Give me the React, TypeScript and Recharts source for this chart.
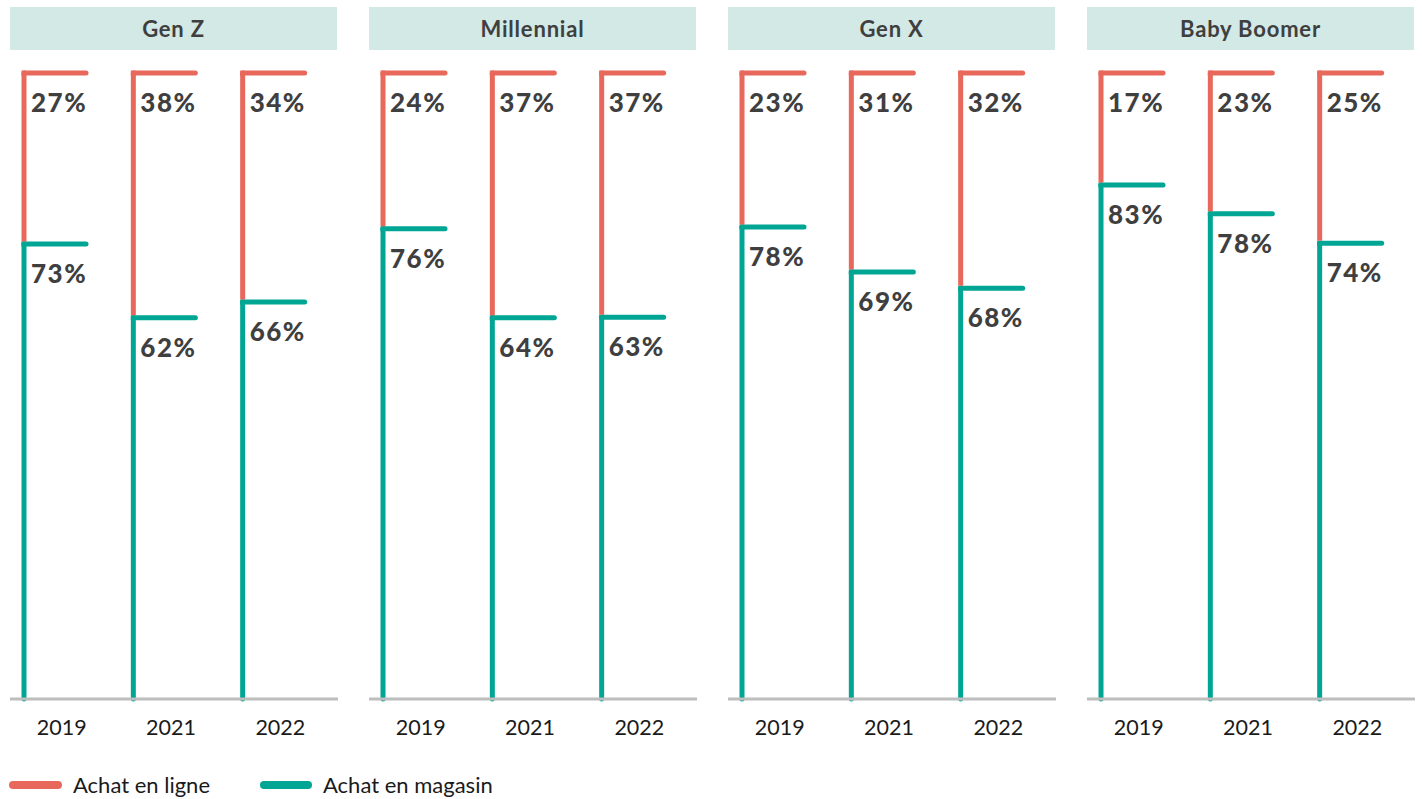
import React from 'react';
import { BarChart, Bar, XAxis, YAxis } from 'recharts';

const categories = ['2019', '2021', '2022'];
const generations = ['Gen Z', 'Millennial', 'Gen X', 'Baby Boomer'];
const seriesNames = ['Achat en ligne', 'Achat en magasin'];

// Displayed label values (%)
const genZEnLigne = [27, 38, 34];
const genZEnMagasin = [73, 62, 66];
const millennialEnLigne = [24, 37, 37];
const millennialEnMagasin = [76, 64, 63];
const genXEnLigne = [23, 31, 32];
const genXEnMagasin = [78, 69, 68];
const boomerEnLigne = [17, 23, 25];
const boomerEnMagasin = [83, 78, 74];

// Heights of the in-store segment as drawn in the picture (% of the column)
const genZHauteur = [72.7, 60.9, 63.4];
const millennialHauteur = [75.1, 60.9, 61.0];
const genXHauteur = [75.4, 68.2, 65.6];
const boomerHauteur = [82.1, 77.5, 72.8];

const RED = '#E8695B';
const GREEN = '#00A693';
const HEADER_BG = '#D2E9E6';
const LABEL = '#3F3F3F';
const FONT = 'Lato, "Noto Sans", sans-serif';

const panelLefts = [10, 369, 728, 1087];

const buildData = (enLigne: number[], enMagasin: number[], hauteur: number[]) =>
  categories.map((annee, i) => ({
    annee,
    enLigne: enLigne[i],
    enMagasin: enMagasin[i],
    hMagasin: hauteur[i],
    hLigne: 100 - hauteur[i],
  }));

const panels = [
  buildData(genZEnLigne, genZEnMagasin, genZHauteur),
  buildData(millennialEnLigne, millennialEnMagasin, millennialHauteur),
  buildData(genXEnLigne, genXEnMagasin, genXHauteur),
  buildData(boomerEnLigne, boomerEnMagasin, boomerHauteur),
];

const TICK_LEN = 62;

const makeShape = (color: string, key: 'enLigne' | 'enMagasin', trimBottom: boolean) => (props: any) => {
  const { x, y, height, payload } = props;
  if (x == null || y == null) return null;
  const x0 = x - 3;
  const bottom = y + height - (trimBottom ? 2.5 : 0);
  return (
    <g>
      <path d={`M ${x0} ${y} L ${x0} ${bottom}`} stroke={color} strokeWidth={5} strokeLinecap={trimBottom ? 'butt' : 'round'} fill="none" />
      <path d={`M ${x0 + TICK_LEN} ${y} L ${x0} ${y}`} stroke={color} strokeWidth={5} strokeLinecap="round" fill="none" />
      <path d={`M ${x0 - 2.5} ${y} L ${x0 + 2} ${y}`} stroke={color} strokeWidth={5} strokeLinecap="butt" fill="none" />
      <text x={x0 + 7} y={y + 39} fill={LABEL} fontFamily={FONT} fontWeight={900} fontSize={26} letterSpacing={1.5}>
        {`${payload[key]}%`}
      </text>
    </g>
  );
};

const greenShape = makeShape(GREEN, 'enMagasin', false);
const redShape = makeShape(RED, 'enLigne', true);

const YearTick = (props: any) => {
  const { x, y, payload } = props;
  return (
    <text x={x - 3} y={y + 36} textAnchor="middle" fill="#1A1A1A" fontFamily={FONT} fontSize={21.5}>
      {payload.value}
    </text>
  );
};

const Panel = ({ data, title, left }: { data: any[]; title: string; left: number }) => (
  <div style={{ position: 'absolute', left, top: 0, width: 328, height: 745 }}>
    <div
      style={{
        position: 'absolute',
        left: 0,
        top: 7,
        width: 327,
        height: 43,
        background: HEADER_BG,
        color: LABEL,
        fontFamily: FONT,
        fontWeight: 700,
        fontSize: 22,
        letterSpacing: 0.8,
        lineHeight: '43px',
        textAlign: 'center',
      }}
    >
      {title}
    </div>
    <BarChart width={328} height={745} data={data} margin={{ top: 73, right: 0, bottom: 0, left: 0 }}>
      <YAxis hide domain={[0, 100]} />
      <XAxis
        dataKey="annee"
        height={46}
        tickLine={false}
        tickSize={0}
        tickMargin={0}
        axisLine={{ stroke: '#BDBDBD', strokeWidth: 3 }}
        tick={<YearTick />}
        interval={0}
      />
      <Bar dataKey="hMagasin" stackId="a" barSize={75} shape={greenShape} isAnimationActive={false} />
      <Bar dataKey="hLigne" stackId="a" barSize={75} shape={redShape} isAnimationActive={false} />
    </BarChart>
  </div>
);

export default function App() {
  return (
    <div style={{ position: 'absolute', left: 0, top: 0, width: 1422, height: 799, background: '#fff' }}>
      {panels.map((d, i) => (
        <Panel key={generations[i]} data={d} title={generations[i]} left={panelLefts[i]} />
      ))}
      <svg style={{ position: 'absolute', left: 0, top: 760 }} width={600} height={39}>
        <line x1={13} y1={25} x2={58} y2={25} stroke={RED} strokeWidth={8} strokeLinecap="round" />
        <text x={73} y={33} fontFamily={FONT} fontSize={22} fill="#1A1A1A">{seriesNames[0]}</text>
        <line x1={264} y1={25} x2={308} y2={25} stroke={GREEN} strokeWidth={8} strokeLinecap="round" />
        <text x={323} y={33} fontFamily={FONT} fontSize={22} fill="#1A1A1A">{seriesNames[1]}</text>
      </svg>
    </div>
  );
}
